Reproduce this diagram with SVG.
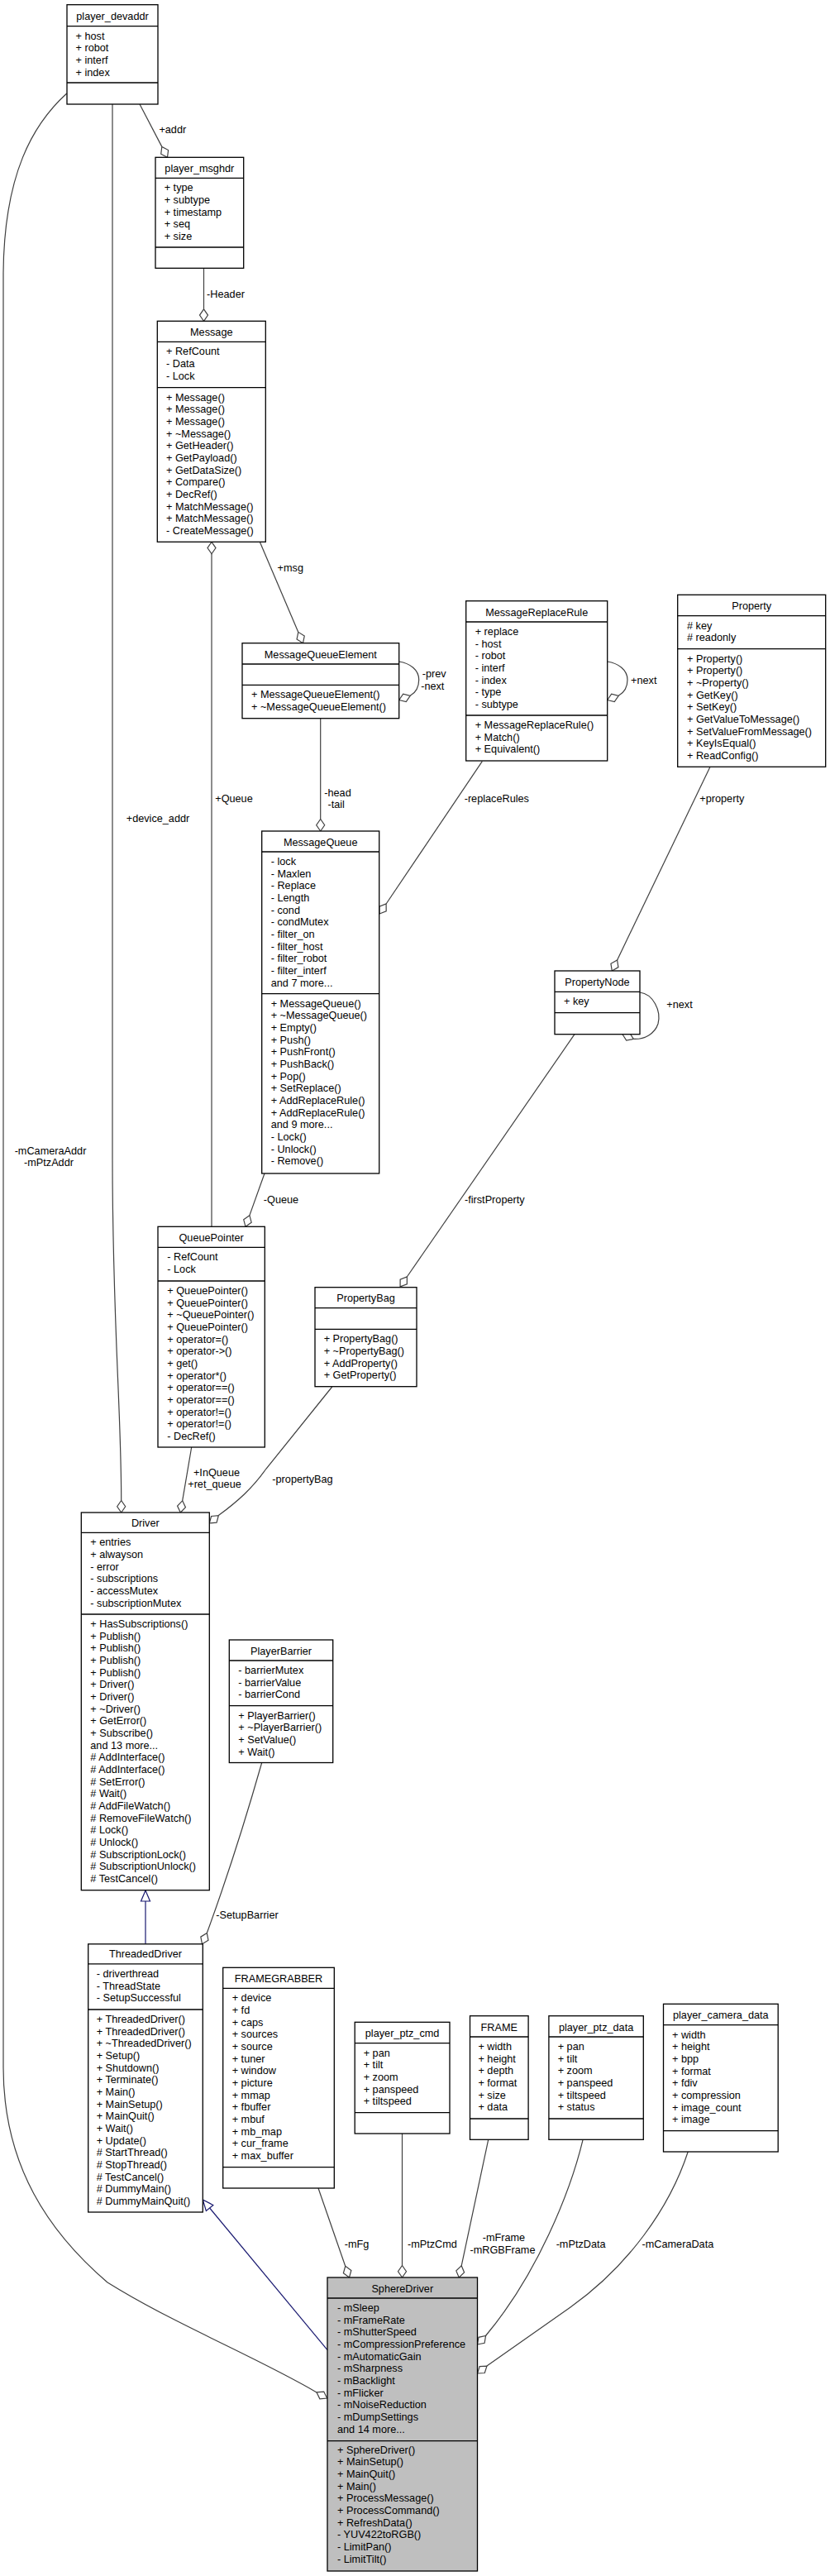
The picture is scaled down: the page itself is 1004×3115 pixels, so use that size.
<svg xmlns="http://www.w3.org/2000/svg" xmlns:xlink="http://www.w3.org/1999/xlink" width="1004" height="3115" viewBox="0 0 1004 3115">
<style>
.node rect{fill:#fff;stroke:#000;stroke-width:1.3}
.node line{stroke:#000;stroke-width:1.3}
text{font-family:"Liberation Sans",Arial,Helvetica,sans-serif;font-size:12.7px;fill:#000}
.c{text-anchor:middle}
.e{fill:none;stroke:#404040;stroke-width:1.2}
.ih{fill:none;stroke:#191970;stroke-width:1.2}
</style>
<defs>
<path id="dia" d="M0,0 L-7.25,-5 L-14.5,0 L-7.25,5 Z" fill="#fff" stroke="#404040" stroke-width="1.2"/>
<path id="tri" d="M0,0 L-13,-5.5 L-13,5.5 Z" fill="#fff" stroke="#191970" stroke-width="1.2"/>
</defs>
<rect width="1004" height="3115" fill="#fff"/>

<g id="connectors">
<path class="e" d="M169,126 L195.8,177.4"/>
<use xlink:href="#dia" transform="translate(202.5,190.3) rotate(62.5)"/>
<text class="c" x="208.8" y="161">+addr</text>
<path class="e" d="M246.5,324.3 L246.5,373.8"/>
<use xlink:href="#dia" transform="translate(246.5,388.3) rotate(90)"/>
<text class="c" x="273" y="360">-Header</text>
<path class="e" d="M314.3,655.3 L360.8,764.4"/>
<use xlink:href="#dia" transform="translate(366.5,777.7) rotate(66.9)"/>
<text class="c" x="351.3" y="691">+msg</text>
<path class="e" d="M256,1483.3 L256,669.8"/>
<use xlink:href="#dia" transform="translate(256,655.3) rotate(-90)"/>
<text class="c" x="283" y="970">+Queue</text>
<path class="e" d="M482.7,800 C496,802 506.7,810 506.7,822 C506.7,832 502,838 496.2,841.3"/>
<use xlink:href="#dia" transform="translate(482.7,846.5) rotate(158.95)"/>
<text class="c" x="525.2" y="819.3">-prev</text>
<text class="c" x="523.3" y="833.6">-next</text>
<path class="e" d="M387.7,868.7 L387.7,990.5"/>
<use xlink:href="#dia" transform="translate(387.7,1005) rotate(90)"/>
<text class="c" x="408.5" y="962.6">-head</text>
<text class="c" x="406.7" y="977">-tail</text>
<path class="e" d="M734.7,800 C748,802 759,810 759,822 C759,832 754,838 748.2,841.3"/>
<use xlink:href="#dia" transform="translate(734.7,846.5) rotate(158.95)"/>
<text class="c" x="778.8" y="827">+next</text>
<path class="e" d="M583.3,920.7 L467.1,1093"/>
<use xlink:href="#dia" transform="translate(459,1105) rotate(124)"/>
<text class="c" x="600.8" y="970">-replaceRules</text>
<path class="e" d="M859,927.3 L746.6,1160.9"/>
<use xlink:href="#dia" transform="translate(740.3,1174) rotate(115.7)"/>
<text class="c" x="873.3" y="970">+property</text>
<path class="e" d="M774,1200 C790,1202 800,1222 796,1238 C792,1250 780,1257 766.3,1256.4"/>
<use xlink:href="#dia" transform="translate(753,1250.7) rotate(-156.7)"/>
<text class="c" x="822" y="1219">+next</text>
<path class="e" d="M695,1250.7 L492.3,1544"/>
<use xlink:href="#dia" transform="translate(484.1,1555.9) rotate(124.7)"/>
<text class="c" x="598.3" y="1455">-firstProperty</text>
<path class="e" d="M320,1419 L301.9,1469.6"/>
<use xlink:href="#dia" transform="translate(297,1483.3) rotate(109.7)"/>
<text class="c" x="340" y="1455.3">-Queue</text>
<path class="e" d="M136,126 L136,1400 C136,1600 146.7,1700 146.7,1814.5"/>
<use xlink:href="#dia" transform="translate(146.7,1829) rotate(90)"/>
<text class="c" x="191" y="994">+device_addr</text>
<path class="e" d="M231.7,1750 L220.7,1814.7"/>
<use xlink:href="#dia" transform="translate(218.3,1829) rotate(99.6)"/>
<text class="c" x="262" y="1785">+InQueue</text>
<text class="c" x="259.5" y="1799.3">+ret_queue</text>
<path class="e" d="M401.7,1677 L322,1776 C305,1800 288,1815 264.3,1832.6"/>
<use xlink:href="#dia" transform="translate(253.3,1842) rotate(139.5)"/>
<text class="c" x="366" y="1793.3">-propertyBag</text>
<path class="ih" d="M176,2350.8 L176,2299"/>
<use xlink:href="#tri" transform="translate(176,2286) rotate(-90)"/>
<path class="e" d="M316.7,2131.5 C300,2190 275,2270 250.3,2337.5"/>
<use xlink:href="#dia" transform="translate(244.5,2350.8) rotate(113.6)"/>
<text class="c" x="299" y="2320.3">-SetupBarrier</text>
<path class="ih" d="M396,2841.7 L253.6,2670"/>
<use xlink:href="#tri" transform="translate(245.3,2660) rotate(-129.65)"/>
<path class="e" d="M385,2646 L417.7,2740.3"/>
<use xlink:href="#dia" transform="translate(422.5,2754) rotate(70.86)"/>
<text class="c" x="431.5" y="2718.3">-mFg</text>
<path class="e" d="M486.5,2580 L486.5,2739.5"/>
<use xlink:href="#dia" transform="translate(486.5,2754) rotate(90)"/>
<text class="c" x="522.9" y="2718.3">-mPtzCmd</text>
<path class="e" d="M590.7,2587.3 L558.2,2739.8"/>
<use xlink:href="#dia" transform="translate(555.2,2754) rotate(102)"/>
<text class="c" x="609.4" y="2710.3">-mFrame</text>
<text class="c" x="608" y="2725">-mRGBFrame</text>
<path class="e" d="M705.1,2587.3 C690,2650 650,2750 587.5,2824.5"/>
<use xlink:href="#dia" transform="translate(577.5,2835) rotate(133.8)"/>
<text class="c" x="702.6" y="2717.6">-mPtzData</text>
<path class="e" d="M832.2,2602 C810,2670 760,2740 690,2790 C650,2818 615,2843 588.9,2861.1"/>
<use xlink:href="#dia" transform="translate(577.5,2870) rotate(142)"/>
<text class="c" x="819.9" y="2717.6">-mCameraData</text>
<path class="e" d="M80.7,113 C40,150 5,210 4,330 L4,2500 C4,2620 60,2700 130,2760 C210,2810 310,2850 383,2892.9"/>
<use xlink:href="#dia" transform="translate(395.6,2900) rotate(29.4)"/>
<text class="c" x="61" y="1396">-mCameraAddr</text>
<text class="c" x="59" y="1410">-mPtzAddr</text>
</g>

<g id="player_devaddr" class="node">
<rect x="81" y="5.7" width="110" height="120.3"/>
<line x1="81" y1="31.7" x2="191" y2="31.7"/><line x1="81" y1="100" x2="191" y2="100"/>
<text class="c" x="136" y="24.2">player_devaddr</text>
<text x="91.5" y="47.7">+ host</text><text x="91.5" y="62.4">+ robot</text><text x="91.5" y="77">+ interf</text><text x="91.5" y="91.7">+ index</text>
</g>

<g id="player_msghdr" class="node">
<rect x="188" y="190.3" width="106.7" height="134"/>
<line x1="188" y1="215.3" x2="294.7" y2="215.3"/><line x1="188" y1="299" x2="294.7" y2="299"/>
<text class="c" x="241.3" y="207.8">player_msghdr</text>
<text x="198.7" y="231.3">+ type</text><text x="198.7" y="246">+ subtype</text><text x="198.7" y="260.6">+ timestamp</text><text x="198.7" y="275.3">+ seq</text><text x="198.7" y="290">+ size</text>
</g>

<g id="Message" class="node">
<rect x="190.3" y="388.3" width="131" height="267"/>
<line x1="190.3" y1="413.3" x2="321.3" y2="413.3"/><line x1="190.3" y1="468.7" x2="321.3" y2="468.7"/>
<text class="c" x="255.8" y="405.8">Message</text>
<text x="201" y="429.3">+ RefCount</text><text x="201" y="444">- Data</text><text x="201" y="458.6">- Lock</text>
<text x="201" y="484.7">+ Message()</text><text x="201" y="499.4">+ Message()</text><text x="201" y="514">+ Message()</text><text x="201" y="528.7">+ ~Message()</text><text x="201" y="543.4">+ GetHeader()</text><text x="201" y="558">+ GetPayload()</text><text x="201" y="572.7">+ GetDataSize()</text><text x="201" y="587.4">+ Compare()</text><text x="201" y="602">+ DecRef()</text><text x="201" y="616.7">+ MatchMessage()</text><text x="201" y="631.4">+ MatchMessage()</text><text x="201" y="646">- CreateMessage()</text>
</g>

<g id="MessageQueueElement" class="node">
<rect x="293" y="777.7" width="189.7" height="91"/>
<line x1="293" y1="803" x2="482.7" y2="803"/><line x1="293" y1="828.3" x2="482.7" y2="828.3"/>
<text class="c" x="387.85" y="795.5">MessageQueueElement</text>
<text x="304" y="844.3">+ MessageQueueElement()</text><text x="304" y="859">+ ~MessageQueueElement()</text>
</g>

<g id="MessageReplaceRule" class="node">
<rect x="563.7" y="726.7" width="171" height="193.3"/>
<line x1="563.7" y1="752" x2="734.7" y2="752"/><line x1="563.7" y1="865" x2="734.7" y2="865"/>
<text class="c" x="649.2" y="744.5">MessageReplaceRule</text>
<text x="574.7" y="768">+ replace</text><text x="574.7" y="782.7">- host</text><text x="574.7" y="797.3">- robot</text><text x="574.7" y="812">- interf</text><text x="574.7" y="826.7">- index</text><text x="574.7" y="841.4">- type</text><text x="574.7" y="856">- subtype</text>
<text x="574.7" y="881">+ MessageReplaceRule()</text><text x="574.7" y="895.7">+ Match()</text><text x="574.7" y="910.3">+ Equivalent()</text>
</g>

<g id="Property" class="node">
<rect x="819.7" y="719.3" width="179" height="208"/>
<line x1="819.7" y1="744.7" x2="998.7" y2="744.7"/><line x1="819.7" y1="784.7" x2="998.7" y2="784.7"/>
<text class="c" x="909.2" y="737.2">Property</text>
<text x="831" y="760.7"># key</text><text x="831" y="775.4"># readonly</text>
<text x="831" y="800.7">+ Property()</text><text x="831" y="815.4">+ Property()</text><text x="831" y="830">+ ~Property()</text><text x="831" y="844.7">+ GetKey()</text><text x="831" y="859.4">+ SetKey()</text><text x="831" y="874">+ GetValueToMessage()</text><text x="831" y="888.7">+ SetValueFromMessage()</text><text x="831" y="903.4">+ KeyIsEqual()</text><text x="831" y="918">+ ReadConfig()</text>
</g>

<g id="MessageQueue" class="node">
<rect x="316.7" y="1005" width="142" height="414"/>
<line x1="316.7" y1="1030" x2="458.7" y2="1030"/><line x1="316.7" y1="1201.7" x2="458.7" y2="1201.7"/>
<text class="c" x="387.7" y="1022.5">MessageQueue</text>
<text x="327.7" y="1046">- lock</text><text x="327.7" y="1060.7">- Maxlen</text><text x="327.7" y="1075.3">- Replace</text><text x="327.7" y="1090">- Length</text><text x="327.7" y="1104.7">- cond</text><text x="327.7" y="1119.4">- condMutex</text><text x="327.7" y="1134">- filter_on</text><text x="327.7" y="1148.7">- filter_host</text><text x="327.7" y="1163.4">- filter_robot</text><text x="327.7" y="1178">- filter_interf</text><text x="327.7" y="1192.7">and 7 more...</text>
<text x="327.7" y="1217.7">+ MessageQueue()</text><text x="327.7" y="1232.4">+ ~MessageQueue()</text><text x="327.7" y="1247">+ Empty()</text><text x="327.7" y="1261.7">+ Push()</text><text x="327.7" y="1276.4">+ PushFront()</text><text x="327.7" y="1291">+ PushBack()</text><text x="327.7" y="1305.7">+ Pop()</text><text x="327.7" y="1320.4">+ SetReplace()</text><text x="327.7" y="1335.1">+ AddReplaceRule()</text><text x="327.7" y="1349.7">+ AddReplaceRule()</text><text x="327.7" y="1364.4">and 9 more...</text><text x="327.7" y="1379.1">- Lock()</text><text x="327.7" y="1393.7">- Unlock()</text><text x="327.7" y="1408.4">- Remove()</text>
</g>

<g id="PropertyNode" class="node">
<rect x="671" y="1174" width="103" height="76.7"/>
<line x1="671" y1="1199.3" x2="774" y2="1199.3"/><line x1="671" y1="1224.7" x2="774" y2="1224.7"/>
<text class="c" x="722.5" y="1191.8">PropertyNode</text>
<text x="682" y="1215.3">+ key</text>
</g>

<g id="QueuePointer" class="node">
<rect x="191" y="1483.3" width="129.3" height="266.7"/>
<line x1="191" y1="1508.3" x2="320.3" y2="1508.3"/><line x1="191" y1="1549" x2="320.3" y2="1549"/>
<text class="c" x="255.65" y="1500.8">QueuePointer</text>
<text x="202.3" y="1524.3">- RefCount</text><text x="202.3" y="1539">- Lock</text>
<text x="202.3" y="1565">+ QueuePointer()</text><text x="202.3" y="1579.7">+ QueuePointer()</text><text x="202.3" y="1594.3">+ ~QueuePointer()</text><text x="202.3" y="1609">+ QueuePointer()</text><text x="202.3" y="1623.7">+ operator=()</text><text x="202.3" y="1638.4">+ operator-&gt;()</text><text x="202.3" y="1653">+ get()</text><text x="202.3" y="1667.7">+ operator*()</text><text x="202.3" y="1682.4">+ operator==()</text><text x="202.3" y="1697">+ operator==()</text><text x="202.3" y="1711.7">+ operator!=()</text><text x="202.3" y="1726.4">+ operator!=()</text><text x="202.3" y="1741">- DecRef()</text>
</g>

<g id="PropertyBag" class="node">
<rect x="381" y="1556.7" width="123" height="120"/>
<line x1="381" y1="1581.7" x2="504" y2="1581.7"/><line x1="381" y1="1607.3" x2="504" y2="1607.3"/>
<text class="c" x="442.5" y="1574.2">PropertyBag</text>
<text x="391.7" y="1623.3">+ PropertyBag()</text><text x="391.7" y="1638">+ ~PropertyBag()</text><text x="391.7" y="1652.7">+ AddProperty()</text><text x="391.7" y="1667.3">+ GetProperty()</text>
</g>

<g id="Driver" class="node">
<rect x="98.3" y="1829" width="155" height="456.7"/>
<line x1="98.3" y1="1853.3" x2="253.3" y2="1853.3"/><line x1="98.3" y1="1952" x2="253.3" y2="1952"/>
<text class="c" x="175.8" y="1845.8">Driver</text>
<text x="109.3" y="1869.3">+ entries</text><text x="109.3" y="1884">+ alwayson</text><text x="109.3" y="1898.6">- error</text><text x="109.3" y="1913.3">- subscriptions</text><text x="109.3" y="1928">- accessMutex</text><text x="109.3" y="1942.7">- subscriptionMutex</text>
<text x="109.3" y="1968">+ HasSubscriptions()</text><text x="109.3" y="1982.7">+ Publish()</text><text x="109.3" y="1997.3">+ Publish()</text><text x="109.3" y="2012">+ Publish()</text><text x="109.3" y="2026.7">+ Publish()</text><text x="109.3" y="2041.4">+ Driver()</text><text x="109.3" y="2056">+ Driver()</text><text x="109.3" y="2070.7">+ ~Driver()</text><text x="109.3" y="2085.4">+ GetError()</text><text x="109.3" y="2100">+ Subscribe()</text><text x="109.3" y="2114.7">and 13 more...</text><text x="109.3" y="2129.4"># AddInterface()</text><text x="109.3" y="2144"># AddInterface()</text><text x="109.3" y="2158.7"># SetError()</text><text x="109.3" y="2173.4"># Wait()</text><text x="109.3" y="2188"># AddFileWatch()</text><text x="109.3" y="2202.7"># RemoveFileWatch()</text><text x="109.3" y="2217.4"># Lock()</text><text x="109.3" y="2232"># Unlock()</text><text x="109.3" y="2246.7"># SubscriptionLock()</text><text x="109.3" y="2261.4"># SubscriptionUnlock()</text><text x="109.3" y="2276"># TestCancel()</text>
</g>

<g id="PlayerBarrier" class="node">
<rect x="277.3" y="1983" width="125.4" height="148.5"/>
<line x1="277.3" y1="2008" x2="402.7" y2="2008"/><line x1="277.3" y1="2062.6" x2="402.7" y2="2062.6"/>
<text class="c" x="340" y="2000.5">PlayerBarrier</text>
<text x="288.3" y="2024">- barrierMutex</text><text x="288.3" y="2038.7">- barrierValue</text><text x="288.3" y="2053.3">- barrierCond</text>
<text x="288.3" y="2078.6">+ PlayerBarrier()</text><text x="288.3" y="2093.3">+ ~PlayerBarrier()</text><text x="288.3" y="2108">+ SetValue()</text><text x="288.3" y="2122.6">+ Wait()</text>
</g>

<g id="ThreadedDriver" class="node">
<rect x="106.7" y="2350.8" width="138.6" height="324.2"/>
<line x1="106.7" y1="2374.8" x2="245.3" y2="2374.8"/><line x1="106.7" y1="2430" x2="245.3" y2="2430"/>
<text class="c" x="176" y="2367.3">ThreadedDriver</text>
<text x="116.7" y="2390.8">- driverthread</text><text x="116.7" y="2405.5">- ThreadState</text><text x="116.7" y="2420.1">- SetupSuccessful</text>
<text x="116.7" y="2446">+ ThreadedDriver()</text><text x="116.7" y="2460.7">+ ThreadedDriver()</text><text x="116.7" y="2475.3">+ ~ThreadedDriver()</text><text x="116.7" y="2490">+ Setup()</text><text x="116.7" y="2504.7">+ Shutdown()</text><text x="116.7" y="2519.4">+ Terminate()</text><text x="116.7" y="2534">+ Main()</text><text x="116.7" y="2548.7">+ MainSetup()</text><text x="116.7" y="2563.4">+ MainQuit()</text><text x="116.7" y="2578">+ Wait()</text><text x="116.7" y="2592.7">+ Update()</text><text x="116.7" y="2607.4"># StartThread()</text><text x="116.7" y="2622"># StopThread()</text><text x="116.7" y="2636.7"># TestCancel()</text><text x="116.7" y="2651.4"># DummyMain()</text><text x="116.7" y="2666"># DummyMainQuit()</text>
</g>

<g id="FRAMEGRABBER" class="node">
<rect x="269.7" y="2379.3" width="134.6" height="266.7"/>
<line x1="269.7" y1="2404.3" x2="404.3" y2="2404.3"/><line x1="269.7" y1="2620.7" x2="404.3" y2="2620.7"/>
<text class="c" x="337" y="2396.8">FRAMEGRABBER</text>
<text x="280.7" y="2420.3">+ device</text><text x="280.7" y="2435">+ fd</text><text x="280.7" y="2449.6">+ caps</text><text x="280.7" y="2464.3">+ sources</text><text x="280.7" y="2479">+ source</text><text x="280.7" y="2493.7">+ tuner</text><text x="280.7" y="2508.3">+ window</text><text x="280.7" y="2523">+ picture</text><text x="280.7" y="2537.7">+ mmap</text><text x="280.7" y="2552.3">+ fbuffer</text><text x="280.7" y="2567">+ mbuf</text><text x="280.7" y="2581.7">+ mb_map</text><text x="280.7" y="2596.3">+ cur_frame</text><text x="280.7" y="2611">+ max_buffer</text>
</g>

<g id="player_ptz_cmd" class="node">
<rect x="429.2" y="2445.3" width="114.8" height="134.7"/>
<line x1="429.2" y1="2470.7" x2="544" y2="2470.7"/><line x1="429.2" y1="2554.7" x2="544" y2="2554.7"/>
<text class="c" x="486.6" y="2463.2">player_ptz_cmd</text>
<text x="439.7" y="2486.7">+ pan</text><text x="439.7" y="2501.4">+ tilt</text><text x="439.7" y="2516">+ zoom</text><text x="439.7" y="2530.7">+ panspeed</text><text x="439.7" y="2545.4">+ tiltspeed</text>
</g>

<g id="FRAME" class="node">
<rect x="568.5" y="2437.7" width="70.6" height="149.6"/>
<line x1="568.5" y1="2463" x2="639.1" y2="2463"/><line x1="568.5" y1="2562" x2="639.1" y2="2562"/>
<text class="c" x="603.8" y="2455.5">FRAME</text>
<text x="578.4" y="2479">+ width</text><text x="578.4" y="2493.7">+ height</text><text x="578.4" y="2508.3">+ depth</text><text x="578.4" y="2523">+ format</text><text x="578.4" y="2537.7">+ size</text><text x="578.4" y="2552.3">+ data</text>
</g>

<g id="player_ptz_data" class="node">
<rect x="663.9" y="2437.7" width="114.4" height="149.6"/>
<line x1="663.9" y1="2463" x2="778.3" y2="2463"/><line x1="663.9" y1="2562" x2="778.3" y2="2562"/>
<text class="c" x="721.1" y="2455.5">player_ptz_data</text>
<text x="674.7" y="2479">+ pan</text><text x="674.7" y="2493.7">+ tilt</text><text x="674.7" y="2508.3">+ zoom</text><text x="674.7" y="2523">+ panspeed</text><text x="674.7" y="2537.7">+ tiltspeed</text><text x="674.7" y="2552.3">+ status</text>
</g>

<g id="player_camera_data" class="node">
<rect x="802.5" y="2423.3" width="138.7" height="178.7"/>
<line x1="802.5" y1="2448.7" x2="941.2" y2="2448.7"/><line x1="802.5" y1="2576.7" x2="941.2" y2="2576.7"/>
<text class="c" x="871.85" y="2441.2">player_camera_data</text>
<text x="813" y="2464.7">+ width</text><text x="813" y="2479.4">+ height</text><text x="813" y="2494">+ bpp</text><text x="813" y="2508.7">+ format</text><text x="813" y="2523.4">+ fdiv</text><text x="813" y="2538">+ compression</text><text x="813" y="2552.7">+ image_count</text><text x="813" y="2567.4">+ image</text>
</g>

<g id="SphereDriver" class="node">
<rect x="396" y="2754" width="181.5" height="355" style="fill:#bfbfbf"/>
<line x1="396" y1="2779" x2="577.5" y2="2779"/><line x1="396" y1="2951.7" x2="577.5" y2="2951.7"/>
<text class="c" x="486.75" y="2771.5">SphereDriver</text>
<text x="408" y="2795">- mSleep</text><text x="408" y="2809.7">- mFrameRate</text><text x="408" y="2824.3">- mShutterSpeed</text><text x="408" y="2839">- mCompressionPreference</text><text x="408" y="2853.7">- mAutomaticGain</text><text x="408" y="2868.4">- mSharpness</text><text x="408" y="2883">- mBacklight</text><text x="408" y="2897.7">- mFlicker</text><text x="408" y="2912.4">- mNoiseReduction</text><text x="408" y="2927">- mDumpSettings</text><text x="408" y="2941.7">and 14 more...</text>
<text x="408" y="2966.6">+ SphereDriver()</text><text x="408" y="2981.3">+ MainSetup()</text><text x="408" y="2995.9">+ MainQuit()</text><text x="408" y="3010.6">+ Main()</text><text x="408" y="3025.3">+ ProcessMessage()</text><text x="408" y="3039.9">+ ProcessCommand()</text><text x="408" y="3054.6">+ RefreshData()</text><text x="408" y="3069.3">- YUV422toRGB()</text><text x="408" y="3083.9">- LimitPan()</text><text x="408" y="3098.6">- LimitTilt()</text>
</g>
</svg>
